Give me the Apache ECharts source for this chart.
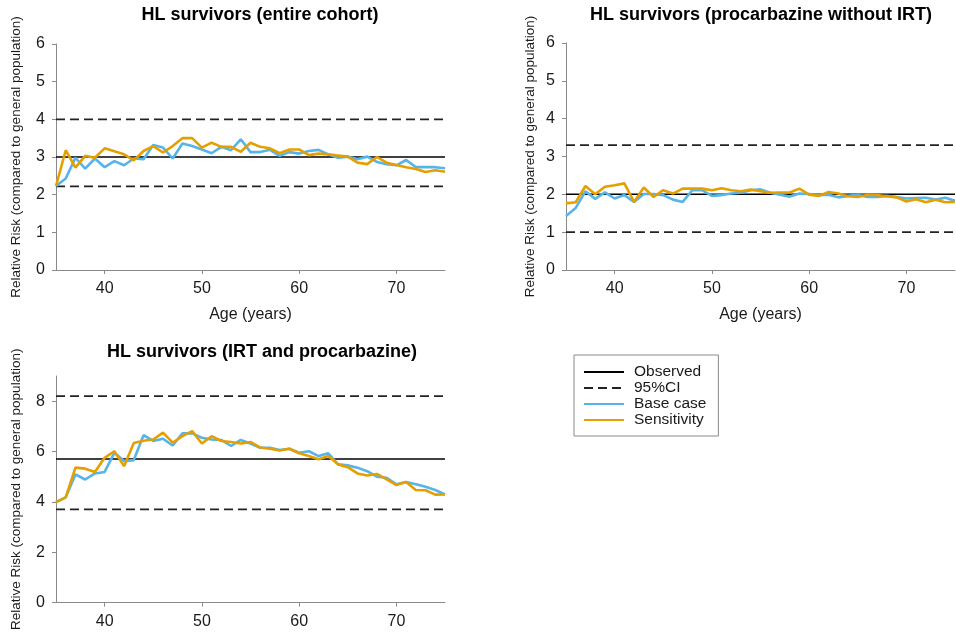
<!DOCTYPE html>
<html>
<head>
<meta charset="utf-8">
<title>Relative risk in HL survivors by age</title>
<script src="https://cdn.jsdelivr.net/npm/echarts@6/dist/echarts.min.js"></script>
<style>
  html, body { margin: 0; padding: 0; background: #ffffff; }
  #chart { width: 956px; height: 632px; }
</style>
</head>
<body>
<div id="chart"></div>
<script>
// Attained age (years)
const ages = [35, 36, 37, 38, 39, 40, 41, 42, 43, 44, 45, 46, 47, 48, 49, 50, 51, 52, 53, 54, 55,
              56, 57, 58, 59, 60, 61, 62, 63, 64, 65, 66, 67, 68, 69, 70, 71, 72, 73, 74, 75];

// Entire cohort
const baseEntire = [2.23, 2.43, 2.98, 2.69, 2.96, 2.73, 2.89, 2.78, 2.96, 2.94, 3.32, 3.25, 2.96, 3.36, 3.29, 3.20, 3.10, 3.27, 3.18, 3.47, 3.13,
                    3.13, 3.19, 3.03, 3.13, 3.09, 3.16, 3.19, 3.07, 2.98, 3.01, 2.94, 3.01, 2.87, 2.81, 2.78, 2.92, 2.73, 2.73, 2.73, 2.70];
const sensEntire = [2.23, 3.18, 2.72, 3.03, 2.98, 3.23, 3.15, 3.07, 2.91, 3.16, 3.29, 3.12, 3.29, 3.50, 3.50, 3.25, 3.38, 3.27, 3.27, 3.14, 3.38,
                    3.27, 3.23, 3.10, 3.20, 3.20, 3.05, 3.09, 3.07, 3.04, 3.01, 2.85, 2.81, 3.00, 2.85, 2.79, 2.73, 2.68, 2.60, 2.65, 2.61];

// Procarbazine without IRT
const basePro = [1.43, 1.64, 2.08, 1.88, 2.05, 1.89, 1.98, 1.80, 2.01, 2.01, 1.98, 1.86, 1.80, 2.11, 2.11, 1.96, 1.98, 2.02, 2.04, 2.11, 2.13,
                 2.04, 1.99, 1.94, 2.02, 2.01, 1.98, 1.99, 1.92, 1.96, 1.99, 1.93, 1.93, 1.96, 1.93, 1.89, 1.90, 1.91, 1.86, 1.91, 1.83];
const sensPro = [1.76, 1.79, 2.22, 2.00, 2.20, 2.24, 2.29, 1.80, 2.18, 1.93, 2.11, 2.02, 2.15, 2.15, 2.15, 2.11, 2.16, 2.11, 2.08, 2.13, 2.08,
                 2.04, 2.05, 2.05, 2.15, 1.99, 1.96, 2.06, 2.02, 1.95, 1.93, 1.99, 1.98, 1.95, 1.92, 1.81, 1.87, 1.79, 1.86, 1.79, 1.80];

// IRT and procarbazine
const baseIrt = [3.99, 4.18, 5.09, 4.89, 5.13, 5.19, 5.95, 5.62, 5.66, 6.65, 6.42, 6.51, 6.24, 6.72, 6.72, 6.55, 6.48, 6.46, 6.22, 6.46, 6.32,
                 6.15, 6.15, 6.06, 6.11, 5.95, 6.01, 5.82, 5.93, 5.49, 5.45, 5.36, 5.22, 5.00, 4.96, 4.70, 4.79, 4.70, 4.60, 4.47, 4.30];
const sensIrt = [3.99, 4.18, 5.36, 5.32, 5.19, 5.75, 6.01, 5.42, 6.34, 6.43, 6.48, 6.75, 6.35, 6.61, 6.81, 6.32, 6.61, 6.42, 6.38, 6.32, 6.38,
                 6.16, 6.11, 6.04, 6.11, 5.93, 5.82, 5.69, 5.82, 5.49, 5.38, 5.13, 5.05, 5.11, 4.89, 4.67, 4.79, 4.47, 4.46, 4.29, 4.30];

// Observed relative risk and its 95% confidence interval, one value per panel
const observed = [3.0, 2.0, 5.7];
const ciLower = [2.22, 1.0, 3.7];
const ciUpper = [4.0, 3.3, 8.2];

const panelTitles = [
  'HL survivors (entire cohort)',
  'HL survivors (procarbazine without IRT)',
  'HL survivors (IRT and procarbazine)'
];
const xTicks = [40, 50, 60, 70];
const yTicksSmall = [0, 1, 2, 3, 4, 5, 6];
const yTicksLarge = [0, 2, 4, 6, 8];
const yMax = [6, 6, 9];

const baseSeries = [baseEntire, basePro, baseIrt];
const sensSeries = [sensEntire, sensPro, sensIrt];

const FONT = '"Liberation Sans", Arial, Helvetica, sans-serif';
const BLUE = '#56B4E9';
const ORANGE = '#E69F00';
const AXIS_GREY = '#8a8a8a';
const TEXT = '#1a1a1a';

const grids = [
  { left: 56, top: 44, width: 389, height: 226 },
  { left: 566, top: 43, width: 389, height: 227 },
  { left: 56, top: 376, width: 389, height: 227 }
];
const yNameGap = [33, 29, 33];
const titlePos = [
  { x: 260, y: 6 },
  { x: 761, y: 6 },
  { x: 262, y: 343 }
];

const pairs = (vals) => ages.map((a, i) => [a, vals[i]]);
const flat = (v) => [[ages[0], v], [ages[ages.length - 1], v]];

const xAxes = [], yAxes = [], series = [], titles = [];

for (let p = 0; p < 3; p++) {
  titles.push({
    text: panelTitles[p],
    left: titlePos[p].x,
    top: titlePos[p].y,
    textAlign: 'center',
    padding: 0,
    textStyle: { fontFamily: FONT, fontSize: 18, fontWeight: 'bold', color: '#000' }
  });

  xAxes.push({
    type: 'value',
    gridIndex: p,
    min: 35,
    max: 75,
    name: p < 2 ? 'Age (years)' : '',
    nameLocation: 'middle',
    nameGap: 37,
    nameTextStyle: { fontFamily: FONT, fontSize: 16, color: TEXT },
    axisLine: { show: true, onZero: false, lineStyle: { color: AXIS_GREY, width: 1 } },
    axisTick: { show: true, length: 4, lineStyle: { color: AXIS_GREY }, customValues: xTicks },
    axisLabel: { fontFamily: FONT, fontSize: 16, color: TEXT, margin: 11, customValues: xTicks },
    splitLine: { show: false }
  });

  const yt = p < 2 ? yTicksSmall : yTicksLarge;
  yAxes.push({
    type: 'value',
    gridIndex: p,
    min: 0,
    max: yMax[p],
    name: 'Relative Risk (compared to general population)',
    nameLocation: 'middle',
    nameGap: yNameGap[p],
    nameTextStyle: { fontFamily: FONT, fontSize: 13.5, color: TEXT },
    axisLine: { show: true, lineStyle: { color: AXIS_GREY, width: 1 } },
    axisTick: { show: true, length: 4, lineStyle: { color: AXIS_GREY }, customValues: yt },
    axisLabel: { fontFamily: FONT, fontSize: 16, color: TEXT, margin: 11, customValues: yt },
    splitLine: { show: false }
  });

  const common = { type: 'line', xAxisIndex: p, yAxisIndex: p, symbol: 'none', silent: true, animation: false };

  series.push(Object.assign({}, common, {
    name: 'Observed', data: flat(observed[p]), z: 2,
    lineStyle: { color: '#000000', width: 1.5, type: 'solid' }, itemStyle: { color: '#000000' }
  }));
  series.push(Object.assign({}, common, {
    name: '95%CI', data: flat(ciLower[p]), z: 2,
    lineStyle: { color: '#222222', width: 1.8, type: [9, 5] }, itemStyle: { color: '#222222' }
  }));
  series.push(Object.assign({}, common, {
    name: '95%CI', data: flat(ciUpper[p]), z: 2,
    lineStyle: { color: '#222222', width: 1.8, type: [9, 5] }, itemStyle: { color: '#222222' }
  }));
  series.push(Object.assign({}, common, {
    name: 'Base case', data: pairs(baseSeries[p]), z: 3,
    lineStyle: { color: BLUE, width: 2.6 }, itemStyle: { color: BLUE }
  }));
  series.push(Object.assign({}, common, {
    name: 'Sensitivity', data: pairs(sensSeries[p]), z: 4,
    lineStyle: { color: ORANGE, width: 2.6 }, itemStyle: { color: ORANGE }
  }));
}

const chart = echarts.init(document.getElementById('chart'), null, { renderer: 'canvas' });
chart.setOption({
  backgroundColor: '#ffffff',
  animation: false,
  title: titles,
  grid: grids,
  xAxis: xAxes,
  yAxis: yAxes,
  legend: {
    orient: 'vertical',
    left: 574,
    top: 355,
    data: ['Observed', '95%CI', 'Base case', 'Sensitivity'],
    borderColor: '#8a8a8a',
    borderWidth: 1,
    padding: [9, 12, 8, 9],
    itemWidth: 40,
    itemHeight: 10,
    itemGap: 0,
    selectedMode: false,
    itemStyle: { opacity: 0 },
    textStyle: { fontFamily: FONT, fontSize: 15.5, lineHeight: 14, color: TEXT, padding: [0, 0, 0, 5] }
  },
  series: series
});
</script>
</body>
</html>
